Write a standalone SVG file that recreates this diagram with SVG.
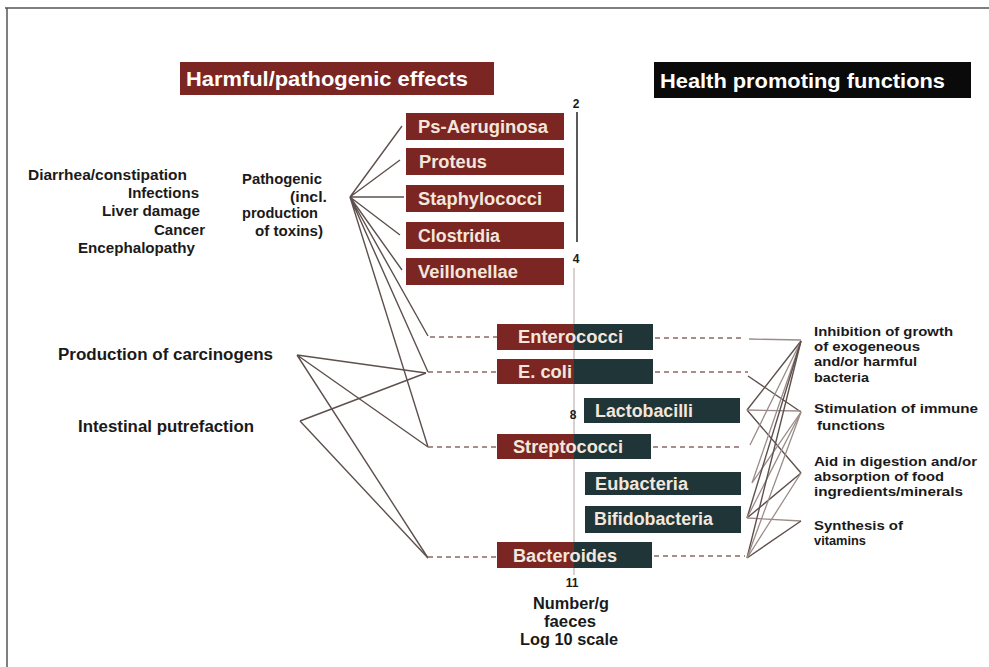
<svg xmlns="http://www.w3.org/2000/svg" width="989" height="667" viewBox="0 0 989 667">
<style>
.bg{fill:#ffffff}
.frame{stroke:#555;stroke-width:1.5;fill:none}
.red{fill:#7b2622}
.teal{fill:#1f3537}
.blk{fill:#0a0a0a}
.hdr{font-family:"Liberation Sans",Arial,sans-serif;font-weight:bold;font-size:21px;fill:#ffffff}
.lbl{font-family:"Liberation Sans",Arial,sans-serif;font-weight:bold;font-size:18px;fill:#f3e6dc}
.txt{font-family:"Liberation Sans",Arial,sans-serif;font-weight:bold;font-size:14px;fill:#1a1a1a}
.big{font-family:"Liberation Sans",Arial,sans-serif;font-weight:bold;font-size:16px;fill:#1a1a1a}
.rt{font-family:"Liberation Sans",Arial,sans-serif;font-weight:bold;font-size:13px;fill:#1a1a1a}
.ax{font-family:"Liberation Sans",Arial,sans-serif;font-weight:bold;font-size:16px;fill:#1a1a1a}
.num{font-family:"Liberation Sans",Arial,sans-serif;font-weight:bold;font-size:12px;fill:#1a1a1a}
.ln{stroke:#5e504c;stroke-width:1.4;fill:none}
.lnl{stroke:#9a8c88;stroke-width:1.3;fill:none}
.dash{stroke:#8a6a66;stroke-width:1.3;stroke-dasharray:5,4;fill:none}
.axis{stroke:#b0a4a0;stroke-width:1;fill:none}
.scale{stroke:#222;stroke-width:1.5;fill:none}
</style>
<rect class="bg" x="0" y="0" width="989" height="667"/>
<path class="frame" d="M5 8 H989 M7 8 V667"/>

<g id="header-harmful">
<rect class="red" x="180" y="62" width="314" height="33"/>
<text class="hdr" x="186" y="86" textLength="282" lengthAdjust="spacingAndGlyphs">Harmful/pathogenic effects</text>
</g>
<g id="header-health">
<rect class="blk" x="654" y="62" width="317" height="36"/>
<text class="hdr" x="660" y="88" textLength="285" lengthAdjust="spacingAndGlyphs">Health promoting functions</text>
</g>

<g id="axis">
<line class="scale" x1="577" y1="112" x2="577" y2="242"/>
<line class="axis" x1="574" y1="268" x2="574" y2="575"/>
<text class="num" x="576" y="108" text-anchor="middle">2</text>
<text class="num" x="576" y="263" text-anchor="middle">4</text>
<text class="num" x="573" y="419" text-anchor="middle">8</text>
<text class="num" x="572" y="587" text-anchor="middle">11</text>
<text class="ax" x="533" y="609" textLength="76" lengthAdjust="spacingAndGlyphs">Number/g</text>
<text class="ax" x="544" y="627" textLength="52" lengthAdjust="spacingAndGlyphs">faeces</text>
<text class="ax" x="520" y="645" textLength="98" lengthAdjust="spacingAndGlyphs">Log 10 scale</text>
</g>

<g id="connectors">
<path class="ln" d="M350 197 L402 126 M350 197 L400 160 M350 197 L404 197 M350 197 L400 235 M350 197 L402 270"/>
<path class="ln" d="M350 197 L428 336 M350 197 L428 372 M350 197 L428 447"/>
<path class="ln" d="M297 355 L426 373 M297 355 L428 447 M297 355 L428 558"/>
<path class="ln" d="M300 421 L426 373 M300 421 L428 558"/>
<path class="dash" d="M430 337 H497 M428 372 H497 M428 447 H497 M428 557 H497"/>
<path class="dash" d="M655 338 H745 M655 372 H748 M653 447 H742 M654 556 H745"/>
<path class="lnl" d="M749 339 L801 340"/>
<path class="ln" d="M748 376 L801 412"/>
<path class="ln" d="M747 410 L801 341 M747 410 L801 473"/>
<path class="lnl" d="M747 410 L801 411"/>
<path class="lnl" d="M750 445 L801 341 M752 483 L801 341 M752 483 L801 412"/>
<path class="ln" d="M747 518 L801 341 M747 518 L801 473"/>
<path class="lnl" d="M747 518 L801 412 M747 518 L801 521"/>
<path class="ln" d="M747 558 L801 341 M747 558 L801 521"/>
<path class="lnl" d="M747 558 L801 412 M747 558 L801 473"/>
</g>

<g id="node-ps-aeruginosa"><rect class="red" x="406" y="113" width="158" height="27"/><text class="lbl" x="418" y="133" textLength="130" lengthAdjust="spacingAndGlyphs">Ps-Aeruginosa</text></g>
<g id="node-proteus"><rect class="red" x="406" y="148" width="158" height="27"/><text class="lbl" x="419" y="168" textLength="68" lengthAdjust="spacingAndGlyphs">Proteus</text></g>
<g id="node-staphylococci"><rect class="red" x="406" y="185" width="158" height="27"/><text class="lbl" x="418" y="205" textLength="124" lengthAdjust="spacingAndGlyphs">Staphylococci</text></g>
<g id="node-clostridia"><rect class="red" x="406" y="222" width="158" height="27"/><text class="lbl" x="418" y="242" textLength="82" lengthAdjust="spacingAndGlyphs">Clostridia</text></g>
<g id="node-veillonellae"><rect class="red" x="406" y="258" width="158" height="27"/><text class="lbl" x="418" y="278" textLength="100" lengthAdjust="spacingAndGlyphs">Veillonellae</text></g>

<g id="node-enterococci"><rect class="red" x="497" y="324" width="77" height="26"/><rect class="teal" x="574" y="324" width="79" height="26"/><text class="lbl" x="518" y="343" textLength="105" lengthAdjust="spacingAndGlyphs">Enterococci</text></g>
<g id="node-ecoli"><rect class="red" x="497" y="359" width="77" height="25"/><rect class="teal" x="574" y="359" width="79" height="25"/><text class="lbl" x="518" y="378" textLength="54" lengthAdjust="spacingAndGlyphs">E. coli</text></g>
<g id="node-lactobacilli"><rect class="teal" x="584" y="398" width="156" height="25"/><text class="lbl" x="595" y="417" textLength="98" lengthAdjust="spacingAndGlyphs">Lactobacilli</text></g>
<g id="node-streptococci"><rect class="red" x="497" y="434" width="77" height="25"/><rect class="teal" x="574" y="434" width="77" height="25"/><text class="lbl" x="513" y="453" textLength="110" lengthAdjust="spacingAndGlyphs">Streptococci</text></g>
<g id="node-eubacteria"><rect class="teal" x="585" y="472" width="156" height="23"/><text class="lbl" x="595" y="490" textLength="93" lengthAdjust="spacingAndGlyphs">Eubacteria</text></g>
<g id="node-bifidobacteria"><rect class="teal" x="585" y="506" width="156" height="27"/><text class="lbl" x="594" y="525" textLength="119" lengthAdjust="spacingAndGlyphs">Bifidobacteria</text></g>
<g id="node-bacteroides"><rect class="red" x="497" y="542" width="77" height="26"/><rect class="teal" x="574" y="542" width="78" height="26"/><text class="lbl" x="513" y="562" textLength="104" lengthAdjust="spacingAndGlyphs">Bacteroides</text></g>

<g id="effects-left">
<text class="txt" x="28" y="180" textLength="159" lengthAdjust="spacingAndGlyphs">Diarrhea/constipation</text>
<text class="txt" x="128" y="198" textLength="71" lengthAdjust="spacingAndGlyphs">Infections</text>
<text class="txt" x="102" y="216" textLength="98" lengthAdjust="spacingAndGlyphs">Liver damage</text>
<text class="txt" x="154" y="235" textLength="51" lengthAdjust="spacingAndGlyphs">Cancer</text>
<text class="txt" x="78" y="253" textLength="117" lengthAdjust="spacingAndGlyphs">Encephalopathy</text>
</g>
<g id="hub-pathogenic">
<text class="txt" x="242" y="184" textLength="80" lengthAdjust="spacingAndGlyphs">Pathogenic</text>
<text class="txt" x="290" y="202" textLength="37" lengthAdjust="spacingAndGlyphs">(incl.</text>
<text class="txt" x="242" y="218" textLength="76" lengthAdjust="spacingAndGlyphs">production</text>
<text class="txt" x="255" y="236" textLength="68" lengthAdjust="spacingAndGlyphs">of toxins)</text>
</g>
<g id="hub-carcinogens"><text class="big" x="58" y="360" textLength="215" lengthAdjust="spacingAndGlyphs">Production of carcinogens</text></g>
<g id="hub-putrefaction"><text class="big" x="78" y="432" textLength="176" lengthAdjust="spacingAndGlyphs">Intestinal putrefaction</text></g>

<g id="fn-inhibition">
<text class="rt" x="814" y="336" textLength="139" lengthAdjust="spacingAndGlyphs">Inhibition of growth</text>
<text class="rt" x="814" y="351" textLength="106" lengthAdjust="spacingAndGlyphs">of exogeneous</text>
<text class="rt" x="814" y="366" textLength="103" lengthAdjust="spacingAndGlyphs">and/or harmful</text>
<text class="rt" x="814" y="382" textLength="55" lengthAdjust="spacingAndGlyphs">bacteria</text>
</g>
<g id="fn-stimulation">
<text class="rt" x="814" y="413" textLength="164" lengthAdjust="spacingAndGlyphs">Stimulation of immune</text>
<text class="rt" x="817" y="430" textLength="68" lengthAdjust="spacingAndGlyphs">functions</text>
</g>
<g id="fn-digestion">
<text class="rt" x="814" y="466" textLength="163" lengthAdjust="spacingAndGlyphs">Aid in digestion and/or</text>
<text class="rt" x="814" y="481" textLength="130" lengthAdjust="spacingAndGlyphs">absorption of food</text>
<text class="rt" x="814" y="496" textLength="149" lengthAdjust="spacingAndGlyphs">ingredients/minerals</text>
</g>
<g id="fn-vitamins">
<text class="rt" x="814" y="530" textLength="89" lengthAdjust="spacingAndGlyphs">Synthesis of</text>
<text class="rt" x="814" y="545" textLength="52" lengthAdjust="spacingAndGlyphs">vitamins</text>
</g>
</svg>
